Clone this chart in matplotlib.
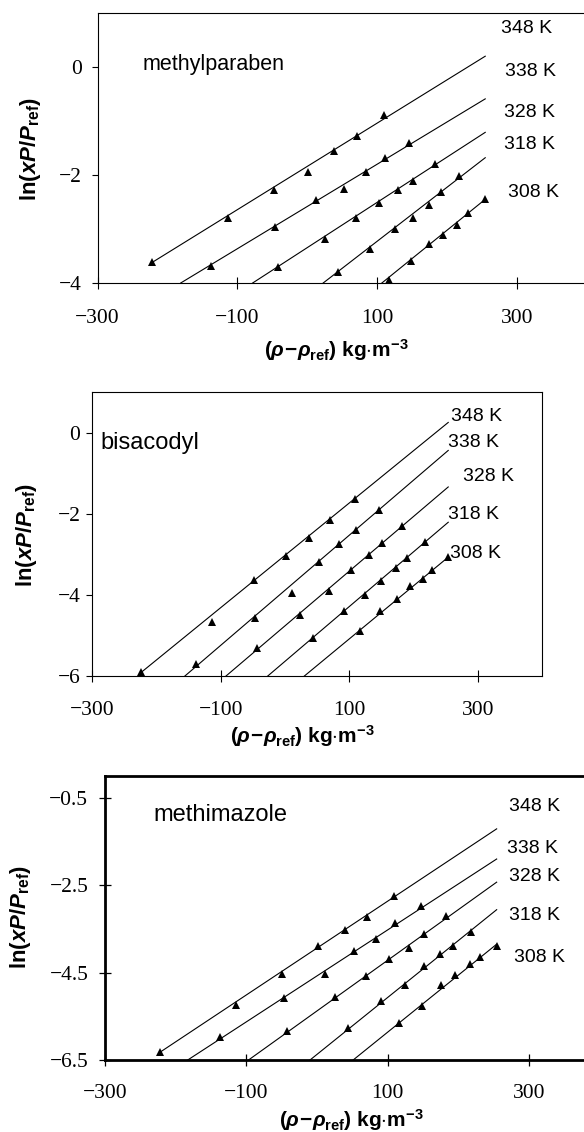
import matplotlib
matplotlib.use("Agg")
import matplotlib.pyplot as plt

plt.rcParams["mathtext.fontset"] = "custom"
plt.rcParams["mathtext.rm"] = "Liberation Sans:bold"
plt.rcParams["mathtext.bf"] = "Liberation Sans:bold"
plt.rcParams["mathtext.it"] = "Liberation Sans:bold:italic"

temps = ["348 K", "338 K", "328 K", "318 K", "308 K"]
xticks = [-300, -100, 100, 300]

# methylparaben
mp_x = [
    [-222, -114, -48, 1, 39, 72, 110],
    [-138, -46, 12, 53, 85, 111, 146],
    [-42, 26, 70, 103, 130, 151, 183],
    [44, 90, 126, 151, 174, 192, 218],
    [117, 149, 175, 195, 215, 230, 255],
]
mp_y = [
    [-3.62, -2.80, -2.28, -1.94, -1.56, -1.28, -0.89],
    [-3.68, -2.97, -2.46, -2.25, -1.95, -1.68, -1.41],
    [-3.71, -3.19, -2.80, -2.51, -2.27, -2.11, -1.80],
    [-3.80, -3.37, -3.00, -2.80, -2.55, -2.31, -2.02],
    [-3.94, -3.59, -3.28, -3.11, -2.93, -2.71, -2.45],
]
# fitted lines: x0, y0, x1, y1
mp_fit = [(-222, -3.62, 255, 0.20), (-181, -4.0, 255, -0.59), (-78, -4.0, 255, -1.21),
          (23, -4.0, 255, -1.68), (107, -4.0, 255, -2.45)]
mp_lab_x = [277, 284, 282, 282, 287]
mp_lab_y = [0.72, -0.09, -0.84, -1.43, -2.33]

# bisacodyl
bc_x = [
    [-224, -114, -48, 1, 38, 70, 109],
    [-139, -47, 11, 53, 84, 110, 146],
    [-44, 24, 69, 102, 130, 151, 182],
    [44, 91, 124, 150, 173, 190, 218],
    [116, 148, 174, 195, 214, 229, 254],
]
bc_y = [
    [-5.91, -4.66, -3.64, -3.05, -2.61, -2.15, -1.63],
    [-5.70, -4.58, -3.95, -3.19, -2.74, -2.41, -1.92],
    [-5.30, -4.50, -3.91, -3.39, -3.01, -2.72, -2.30],
    [-5.06, -4.40, -4.01, -3.66, -3.33, -3.08, -2.70],
    [-4.89, -4.40, -4.11, -3.79, -3.60, -3.38, -3.07],
]
bc_fit = [(-224, -5.91, 254, 0.25), (-156, -6.0, 254, -0.44), (-92, -6.0, 254, -1.34),
          (-27, -6.0, 254, -2.21), (30, -6.0, 254, -3.07)]
bc_lab_x = [258, 254, 277, 254, 257]
bc_lab_y = [0.39, -0.24, -1.07, -2.02, -2.98]

# methimazole
mm_x = [
    [-222, -115, -49, 1, 39, 70, 109],
    [-138, -47, 11, 52, 84, 110, 147],
    [-43, 25, 69, 102, 130, 151, 182],
    [44, 90, 125, 151, 174, 192, 218],
    [116, 148, 175, 195, 216, 231, 254],
]
mm_y = [
    [-6.32, -5.24, -4.53, -3.90, -3.52, -3.22, -2.74],
    [-5.98, -5.09, -4.54, -4.00, -3.73, -3.37, -2.97],
    [-5.83, -5.05, -4.57, -4.19, -3.93, -3.62, -3.20],
    [-5.77, -5.16, -4.78, -4.35, -4.08, -3.88, -3.56],
    [-5.66, -5.26, -4.78, -4.55, -4.31, -4.15, -3.88],
]
mm_fit = [(-222, -6.32, 254, -1.21), (-183, -6.5, 254, -1.90), (-97, -6.5, 254, -2.43),
          (-10, -6.5, 254, -3.06), (51, -6.5, 254, -3.85)]
mm_lab_x = [272, 268, 272, 272, 279]
mm_lab_y = [-0.70, -1.65, -2.29, -3.19, -4.15]

ylab = r"$\mathrm{ln(}xP/P_{\mathrm{ref}}\mathrm{)}$"
xlab = r"$(\rho\!-\!\rho_{\mathrm{ref}})$ kg$\cdot$m$^{-3}$"

fig = plt.figure(figsize=(5.84, 11.32), dpi=100)


def draw(ax, xs, ys, fits, lab_x, lab_y):
    for i in range(len(xs)):
        x0, y0, x1, y1 = fits[i]
        ax.plot([x0, x1], [y0, y1], color="black", lw=0.8)
        ax.plot(xs[i], ys[i], "^", color="black", ms=6, mew=0)
        ax.text(lab_x[i], lab_y[i], temps[i], fontsize=14, family="Liberation Sans",
                ha="left", va="center")
    ax.set_xticks(xticks)
    for lbl in ax.get_xticklabels() + ax.get_yticklabels():
        lbl.set_family("Liberation Serif")
        lbl.set_fontsize(15.5)


# panel 1
ax1 = fig.add_axes([0.1671, 0.75, 0.8372, 0.2385])
ax1.set_xlim(-300, 400)
ax1.set_ylim(-4, 1)
ax1.set_yticks([0, -2, -4])
draw(ax1, mp_x, mp_y, mp_fit, mp_lab_x, mp_lab_y)
ax1.text(-235, 0.04, "methylparaben", fontsize=15.5, family="Liberation Sans", va="center")
ax1.tick_params(axis="x", direction="inout", length=8, width=0.8, pad=15)
ax1.tick_params(axis="y", direction="out", length=4.5, width=0.8, pad=7)
for s in ax1.spines.values():
    s.set_linewidth(0.8)

# panel 2
ax2 = fig.add_axes([0.1582, 0.4028, 0.7699, 0.2509])
ax2.set_xlim(-300, 400)
ax2.set_ylim(-6, 1)
ax2.set_yticks([0, -2, -4, -6])
draw(ax2, bc_x, bc_y, bc_fit, bc_lab_x, bc_lab_y)
ax2.text(-287, -0.26, "bisacodyl", fontsize=17, family="Liberation Sans", va="center")
ax2.tick_params(axis="x", direction="inout", length=8, width=0.8, pad=14)
ax2.tick_params(axis="y", direction="out", length=4.2, width=0.8, pad=4.5)
for s in ax2.spines.values():
    s.set_linewidth(0.8)

# panel 3
ax3 = fig.add_axes([0.1798, 0.0636, 0.8474, 0.2509])
ax3.set_xlim(-300, 400)
ax3.set_ylim(-6.5, 0)
ax3.set_yticks([-0.5, -2.5, -4.5, -6.5])
draw(ax3, mm_x, mm_y, mm_fit, mm_lab_x, mm_lab_y)
ax3.text(-232, -0.89, "methimazole", fontsize=17, family="Liberation Sans", va="center")
ax3.tick_params(axis="x", direction="inout", length=8, width=0.9, pad=13.5)
ax3.tick_params(axis="y", direction="inout", length=9, width=0.9, pad=7.5)
for s in ax3.spines.values():
    s.set_linewidth(2)

# axis titles
lab_pos = [
    (ax1, -0.138, 0.496, 0.488, -0.25),
    (ax2, -0.1455, 0.496, 0.468, -0.212),
    (ax3, -0.171, 0.504, 0.497, -0.212),
]
for ax, yx, yy, xx, xy in lab_pos:
    ax.set_ylabel(ylab, fontsize=16, va="center", ha="center")
    ax.yaxis.set_label_coords(yx, yy)
    ax.set_xlabel(xlab, fontsize=15, fontweight="bold", family="Liberation Sans",
                  va="center", ha="center")
    ax.xaxis.set_label_coords(xx, xy)

fig.savefig("out.png", dpi=100)
